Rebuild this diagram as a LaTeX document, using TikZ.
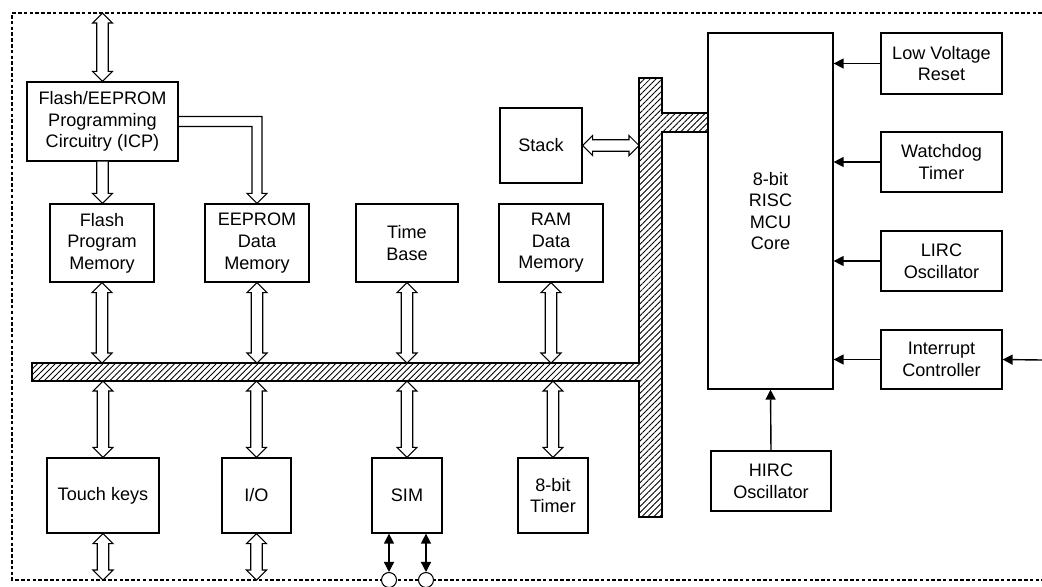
\documentclass[tikz,border=0pt]{standalone}
\usepackage{fontspec}
\setmainfont{Liberation Sans}
\usetikzlibrary{arrows.meta,calc,patterns.meta}
% hollow bus arrows, (a) above (b)
\newcommand{\dblarrow}[2]{%
  \draw[hollow] let \p1=#1, \p2=#2 in
    (\x1,\y1) -- (\x1+0.2cm,\y1-0.2cm) -- (\x1+0.115cm,\y1-0.2cm)
    -- (\x1+0.115cm,\y2+0.2cm) -- (\x1+0.2cm,\y2+0.2cm) -- (\x1,\y2)
    -- (\x1-0.2cm,\y2+0.2cm) -- (\x1-0.115cm,\y2+0.2cm)
    -- (\x1-0.115cm,\y1-0.2cm) -- (\x1-0.2cm,\y1-0.2cm) -- cycle;}
\newcommand{\feedarrow}[2]{%
  \draw[hollow] let \p1=#1, \p2=#2 in
    (\x1-0.115cm,\y1) -- (\x1-0.115cm,\y2+0.2cm) -- (\x1-0.2cm,\y2+0.2cm)
    -- (\x1,\y2) -- (\x1+0.2cm,\y2+0.2cm) -- (\x1+0.115cm,\y2+0.2cm)
    -- (\x1+0.115cm,\y1);}
\newcommand{\sidearrow}[2]{%
  \draw[hollow] let \p1=#1, \p2=#2 in
    (\x1,\y1) -- (\x1+0.2cm,\y1+0.2cm) -- (\x1+0.2cm,\y1+0.115cm)
    -- (\x2-0.2cm,\y1+0.115cm) -- (\x2-0.2cm,\y1+0.2cm) -- (\x2,\y1)
    -- (\x2-0.2cm,\y1-0.2cm) -- (\x2-0.2cm,\y1-0.115cm)
    -- (\x1+0.2cm,\y1-0.115cm) -- (\x1+0.2cm,\y1-0.2cm) -- cycle;}

\begin{document}
\begin{tikzpicture}[x=0.02cm, y=-0.02cm, font=\fontsize{10.3}{12.3}\selectfont,
  >={Triangle[length=2mm,width=2mm]},
  blk/.style={draw, line width=0.7pt, align=center, inner sep=1pt},
  sz/.style 2 args={minimum width=#1*0.02cm, minimum height=#2*0.02cm},
  hollow/.style={draw, line width=0.6pt, fill=white},
  bus/.style={draw, line width=0.7pt, pattern={Lines[angle=45,distance=2.4pt,line width=0.5pt]}},
  sig/.style={->, line width=0.8pt},
  pad/.style={circle, draw, fill=white, line width=0.6pt, minimum size=0.3cm, inner sep=0pt},
  border/.style={line width=0.6pt, dash pattern=on 2pt off 1.3pt}]
\useasboundingbox (0,0) rectangle (1042,586);
% chip outline
\draw[border] (1042,13) -- (12,13) -- (12,580) -- (1042,580);
\coordinate (top) at (107,13);
\coordinate (bot) at (0,580);
\coordinate (ext) at (1042,360);
% data bus
\draw[bus] (32,363) -- (639,363) -- (639,78) -- (662,78) -- (662,113) -- (708,113)
  -- (708,132) -- (662,132) -- (662,517) -- (639,517) -- (639,381) -- (32,381) -- cycle;
\coordinate (busN) at (0,363);
\coordinate (busS) at (0,381);
\coordinate (vbus) at (639,0);

\node[blk, sz={151}{79}]  (icp)    at (102.5,121.5) {Flash/EEPROM\\Programming\\Circuitry (ICP)};
\node[blk, sz={104}{78}]  (flash)  at (102,243)     {Flash\\Program\\Memory};
\node[blk, sz={104}{78}]  (eeprom) at (257,243)     {EEPROM\\Data\\Memory};
\node[blk, sz={102}{78}]  (tbase)  at (407,243)     {Time\\Base};
\node[blk, sz={104}{78}]  (ram)    at (551,243)     {RAM\\Data\\Memory};
\node[blk, sz={82}{75}]   (stack)  at (541,145.5)   {Stack};
\node[blk, sz={125}{356}] (mcu)    at (770.5,211)   {8-bit\\RISC\\MCU\\Core};
\node[blk, sz={121}{61}]  (lvr)    at (941.5,63.5)  {Low Voltage\\Reset};
\node[blk, sz={121}{60}]  (wdt)    at (941.5,162)   {Watchdog\\Timer};
\node[blk, sz={121}{60}]  (lirc)   at (941.5,261)   {LIRC\\Oscillator};
\node[blk, sz={121}{59}]  (intc)   at (941.5,359.5) {Interrupt\\Controller};
\node[blk, sz={120}{60}]  (hirc)   at (771,481)     {HIRC\\Oscillator};
\node[blk, sz={112}{75}]  (touch)  at (103,495.5)   {Touch keys};
\node[blk, sz={69}{75}]   (io)     at (256.5,495.5) {I/O};
\node[blk, sz={70}{75}]   (sim)    at (407,495.5)   {SIM};
\node[blk, sz={70}{75}]   (tmr)    at (553,495.5)   {8-bit\\Timer};
\node[pad] (pa) at (389,580) {};
\node[pad] (pb) at (426,580) {};

% programming paths
\dblarrow{(icp.north |- top)}{(icp.north)}
\feedarrow{(icp.south)}{(flash.north)}
\draw[hollow, fill=none] let \p1=(icp.east), \p2=(eeprom.north) in
  (\x1,\y1+0.1cm) -- (\x2+0.1cm,\y1+0.1cm) -- (\x2+0.1cm,\y2+0.2cm) -- (\x2+0.2cm,\y2+0.2cm)
  -- (\x2,\y2) -- (\x2-0.2cm,\y2+0.2cm) -- (\x2-0.1cm,\y2+0.2cm) -- (\x2-0.1cm,\y1-0.1cm)
  -- (\x1,\y1-0.1cm);
% bus connections
\dblarrow{(flash.south)}{(flash.south |- busN)}
\dblarrow{(eeprom.south)}{(eeprom.south |- busN)}
\dblarrow{(tbase.south)}{(tbase.south |- busN)}
\dblarrow{(ram.south)}{(ram.south |- busN)}
\dblarrow{(touch.north |- busS)}{(touch.north)}
\dblarrow{(io.north |- busS)}{(io.north)}
\dblarrow{(sim.north |- busS)}{(sim.north)}
\dblarrow{(tmr.north |- busS)}{(tmr.north)}
\sidearrow{(stack.east)}{(stack.east -| vbus)}
\dblarrow{(touch.south)}{(touch.south |- bot)}
\dblarrow{(io.south)}{(io.south |- bot)}
% control signals
\draw[sig] (lvr.west) -- (lvr.west -| mcu.east);
\draw[sig] (wdt.west) -- (wdt.west -| mcu.east);
\draw[sig] (lirc.west) -- (lirc.west -| mcu.east);
\draw[sig] (intc.west) -- (intc.west -| mcu.east);
\draw[sig] (ext) -- (intc.east);
\draw[sig] (hirc.north) -- (mcu.south);
\draw[sig, <->] (sim.south -| pa) -- (pa.north);
\draw[sig, <->] (sim.south -| pb) -- (pb.north);
\end{tikzpicture}
\end{document}
